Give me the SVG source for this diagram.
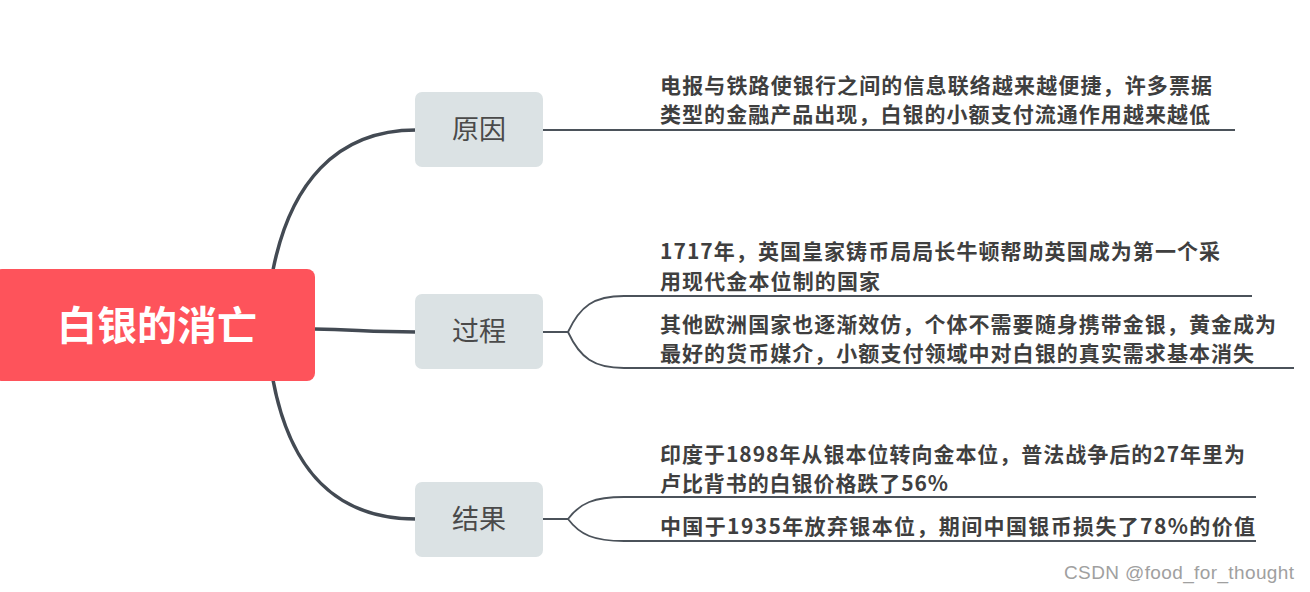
<svg xmlns="http://www.w3.org/2000/svg" width="1310" height="592" viewBox="0 0 1310 592">
<style>
.main{fill:none;stroke:#434a53;stroke-width:3.5;stroke-linecap:round}
.sub{fill:none;stroke:#4b525a;stroke-width:1.8}
.branch rect{fill:#dbe2e4}
.branch text{font-family:"Noto Sans CJK SC","Noto Sans",sans-serif;font-size:27px;fill:#4a4a4a;text-anchor:middle}
.leaf text{font-family:"Noto Sans CJK SC","Noto Sans",sans-serif;font-size:21px;font-weight:bold;fill:#3f3f3f}
.root text{font-family:"Noto Sans CJK SC","Noto Sans",sans-serif;font-size:40px;font-weight:bold;fill:#ffffff;text-anchor:middle}
</style>
<rect width="1310" height="592" fill="#ffffff"/>
<g id="connectors">
<path class="main" d="M273 270 C290 185 335 130 416 130"/>
<path class="main" d="M314 329 C360 330 370 332 416 332"/>
<path class="main" d="M273 380 C290 470 335 519 416 519"/>
<path class="sub" d="M543 130 H1235"/>
<path class="sub" d="M543 332 H568 M568 332 C580 306 594 296 624 296 H1252 M568 332 C580 358 594 368 624 368 H1294"/>
<path class="sub" d="M543 519 H568 M568 519 C580 503 594 497 624 497 H1256 M568 519 C580 535 594 541 624 541 H1256"/>
</g>
<g id="root" class="root">
<rect x="-6" y="269" width="321" height="112" rx="8" fill="#fe535b"/>
<text x="157" y="340">白银的消亡</text>
</g>
<g id="n-reason" class="branch">
<rect x="415" y="92" width="128" height="75" rx="7"/>
<text x="479" y="139">原因</text>
</g>
<g id="n-process" class="branch">
<rect x="415" y="294" width="128" height="75" rx="7"/>
<text x="479" y="341">过程</text>
</g>
<g id="n-result" class="branch">
<rect x="415" y="482" width="128" height="75" rx="7"/>
<text x="479" y="529">结果</text>
</g>
<g id="leaf-reason" class="leaf">
<text x="660" y="93" textLength="552">电报与铁路使银行之间的信息联络越来越便捷，许多票据</text>
<text x="660" y="122" textLength="550">类型的金融产品出现，白银的小额支付流通作用越来越低</text>
</g>
<g id="leaf-process-1" class="leaf">
<text x="660" y="259" textLength="560">1717年，英国皇家铸币局局长牛顿帮助英国成为第一个采</text>
<text x="660" y="289" textLength="220">用现代金本位制的国家</text>
</g>
<g id="leaf-process-2" class="leaf">
<text x="660" y="332" textLength="616">其他欧洲国家也逐渐效仿，个体不需要随身携带金银，黄金成为</text>
<text x="660" y="361" textLength="594">最好的货币媒介，小额支付领域中对白银的真实需求基本消失</text>
</g>
<g id="leaf-result-1" class="leaf">
<text x="660" y="462" textLength="585">印度于1898年从银本位转向金本位，普法战争后的27年里为</text>
<text x="660" y="491" textLength="288">卢比背书的白银价格跌了56%</text>
</g>
<g id="leaf-result-2" class="leaf">
<text x="660" y="534" textLength="595">中国于1935年放弃银本位，期间中国银币损失了78%的价值</text>
</g>
<text x="1294" y="579" font-family="'Liberation Sans Narrow','Liberation Sans',sans-serif" font-size="19" fill="#a0a0a0" text-anchor="end" textLength="230">CSDN @food_for_thought</text>
</svg>
